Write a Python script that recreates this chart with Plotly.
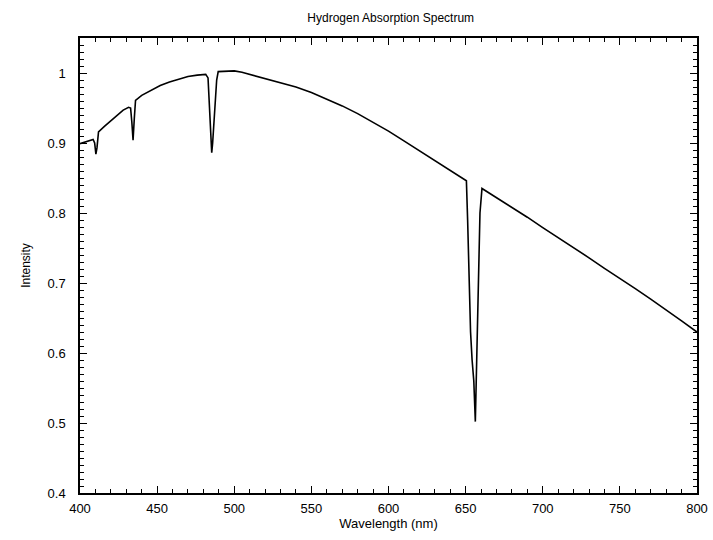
import plotly.graph_objects as go

wavelength = [400, 403, 406, 408.5, 409.5, 410.3, 411, 412, 416, 420, 424, 428, 431.5,
              432.8, 433.6, 434.4, 435.2, 436, 440, 446, 452, 458, 464, 470, 476, 481.5,
              483.0, 483.8, 484.6, 485.4, 486.0, 486.8, 487.6, 488.6, 489.6,
              495, 500, 505, 510, 520, 530, 540, 550, 560, 570, 580, 590, 600, 610,
              620, 630, 640, 646, 650.5,
              651.3, 652.2, 653.2, 654.2, 655.3, 656.3, 657.0, 657.8, 658.5, 659.3, 660.6,
              670, 680, 690, 700, 710, 720, 730, 740, 750, 760, 770, 780, 790, 800]
intensity = [0.899, 0.901, 0.903, 0.905, 0.900, 0.884, 0.893, 0.916, 0.924, 0.932, 0.940, 0.947, 0.951,
             0.950, 0.930, 0.904, 0.935, 0.961, 0.968, 0.975, 0.982, 0.987, 0.991, 0.995, 0.997, 0.998,
             0.993, 0.950, 0.905, 0.886, 0.900, 0.930, 0.965, 0.990, 1.002,
             1.003, 1.003, 1.001, 0.998, 0.993, 0.987, 0.980, 0.972, 0.963, 0.953, 0.942, 0.930, 0.917, 0.903,
             0.889, 0.875, 0.861, 0.853, 0.846,
             0.790, 0.700, 0.630, 0.590, 0.560, 0.502, 0.570, 0.650, 0.730, 0.800, 0.835,
             0.822, 0.808, 0.794, 0.779, 0.765, 0.750, 0.736, 0.721, 0.707, 0.692, 0.677, 0.662, 0.646, 0.630]

x_ticks = [400, 450, 500, 550, 600, 650, 700, 750, 800]
y_ticks = [0.4, 0.5, 0.6, 0.7, 0.8, 0.9, 1.0]
y_labels = ["0.4", "0.5", "0.6", "0.7", "0.8", "0.9", "1"]

font_family = "Liberation Sans, Arial, sans-serif"

fig = go.Figure()
fig.add_trace(go.Scatter(x=wavelength, y=intensity, mode="lines",
                         line=dict(color="black", width=1.6), showlegend=False,
                         hoverinfo="skip"))

fig.update_layout(
    width=713, height=540,
    margin=dict(l=80, r=16, t=38, b=47, autoexpand=False),
    paper_bgcolor="white", plot_bgcolor="white",
    font=dict(family=font_family, size=12, color="black"),
    title=dict(text="Hydrogen Absorption Spectrum", x=0.548, xanchor="center",
               y=0.967, yanchor="middle", font=dict(size=12, color="black")),
)

fig.update_xaxes(
    range=[400, 800], tickvals=x_ticks, ticktext=[str(v) for v in x_ticks],
    ticks="inside", ticklen=7, tickwidth=1, tickcolor="black",
    showline=True, linecolor="black", linewidth=1.5, mirror="ticks",
    showgrid=False, zeroline=False, automargin=False,
    minor=dict(dtick=10, ticks="inside", ticklen=4, tickcolor="black", tickwidth=1),
    title=dict(text="Wavelength (nm)", font=dict(size=13), standoff=4),
    tickfont=dict(size=13), ticklabelstandoff=3,
)
fig.update_yaxes(
    range=[0.4, 1.05], tickvals=y_ticks, ticktext=y_labels,
    ticks="inside", ticklen=7, tickwidth=1, tickcolor="black",
    showline=True, linecolor="black", linewidth=1.5, mirror="ticks",
    showgrid=False, zeroline=False, automargin=False,
    minor=dict(dtick=0.01, tick0=0.4, ticks="inside", ticklen=4, tickcolor="black", tickwidth=1),
    title=dict(text="Intensity", font=dict(size=12), standoff=14),
    tickfont=dict(size=13), ticklabelstandoff=10,
)

fig.write_html("out.html")
